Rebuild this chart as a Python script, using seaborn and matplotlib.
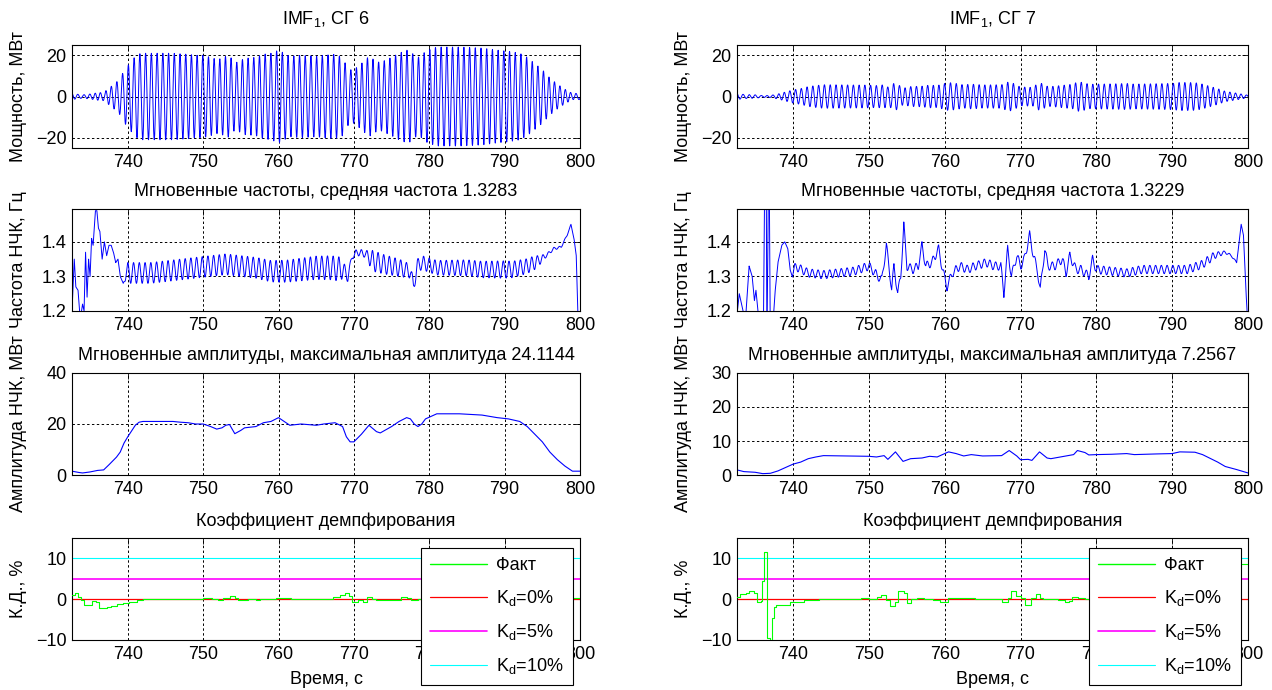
import numpy as np
import matplotlib
matplotlib.use("Agg")
import matplotlib.pyplot as plt
import seaborn as sns
from matplotlib.lines import Line2D

sns.set_style("white")
plt.rcParams["font.family"] = ["Liberation Sans", "DejaVu Sans"]
plt.rcParams["mathtext.fontset"] = "custom"
plt.rcParams["mathtext.rm"] = "Liberation Sans"
plt.rcParams["mathtext.it"] = "Liberation Sans:italic"
plt.rcParams["mathtext.bf"] = "Liberation Sans:bold"
plt.rcParams["text.color"] = "black"
plt.rcParams["axes.labelcolor"] = "black"
plt.rcParams["xtick.color"] = "black"
plt.rcParams["ytick.color"] = "black"

# ---------------- data ----------------
T_START, T_END = 732.6, 800.0
x_ticks = [740, 750, 760, 770, 780, 790, 800]
x_ticklabels = ["740", "750", "760", "770", "780", "790", "800"]
# bottom row: the 790 label sits fully under the legend in the reference
x_ticklabels_bottom = ["740", "750", "760", "770", "780", "", "800"]

# Instantaneous amplitude, SG 6
amp6_t = [732.6, 733.5, 734.0, 735.0, 736.0, 736.8, 737.5, 738.5, 739.0, 739.5, 740.0, 741.0, 741.5,
          742.0, 746.0, 747.0, 748.0, 749.0, 750.0, 751.0, 751.8, 752.5, 753.0, 753.5, 754.2, 755.0,
          755.5, 757.0, 758.0, 759.0, 760.0, 760.5, 761.5, 763.0, 765.0, 766.0, 767.5, 768.5, 769.0,
          769.5, 770.0, 771.0, 772.0, 773.0, 773.5, 775.0, 776.0, 777.0, 777.5, 778.0, 778.5, 779.0,
          779.5, 781.0, 784.0, 787.0, 789.0, 790.5, 792.0, 793.0, 794.0, 795.0, 796.0, 797.0, 798.0,
          799.0, 800.0]
amp6_v = [1.5, 1.0, 0.8, 1.2, 1.8, 2.0, 4.0, 7.0, 9.0, 12.5, 15.0, 19.5, 20.7,
          21.0, 21.0, 20.7, 20.5, 20.0, 20.0, 19.0, 18.0, 18.5, 19.5, 19.8, 16.2, 17.5,
          18.5, 19.0, 20.5, 21.0, 22.5, 21.5, 19.5, 20.0, 19.5, 20.0, 20.5, 19.0, 15.0,
          13.0, 13.0, 16.0, 19.5, 17.0, 16.5, 19.0, 21.0, 22.5, 22.0, 20.0, 19.0, 20.0,
          22.0, 24.0, 24.0, 23.5, 22.5, 22.0, 21.0, 19.0, 16.0, 13.0, 9.0, 6.0, 3.5,
          1.5, 1.5]

# Instantaneous amplitude, SG 7
amp7_t = [732.6, 733.5, 735.0, 736.0, 737.0, 738.0, 739.0, 740.0, 741.0, 742.0, 743.0, 744.0,
          750.0, 751.0, 752.0, 752.5, 753.5, 754.5, 755.5, 757.0, 758.0, 759.0, 760.5, 761.5,
          762.5, 763.5, 765.0, 767.5, 768.5, 769.5, 770.0, 771.0, 771.5, 772.5, 773.5, 774.0,
          776.0, 777.0, 777.5, 778.5, 779.0, 780.0, 782.0, 784.0, 785.0, 788.0, 790.0, 791.0,
          793.0, 794.0, 796.0, 797.0, 798.5, 800.0]
amp7_v = [1.5, 1.0, 0.8, 0.4, 0.5, 1.2, 2.2, 3.2, 3.8, 4.8, 5.3, 5.7,
          5.5, 5.3, 5.7, 4.6, 6.8, 4.0, 4.8, 5.0, 5.5, 5.3, 6.8, 6.3,
          5.6, 6.0, 5.6, 5.7, 7.2, 5.6, 4.5, 4.6, 4.3, 6.8, 5.0, 4.8,
          5.6, 6.0, 7.2, 6.6, 5.9, 6.0, 6.1, 6.3, 6.0, 6.2, 6.3, 6.8,
          6.7, 6.0, 3.8, 2.5, 1.6, 0.6]

# Instantaneous frequency (mean level), SG 6
freq6_t = [732.6, 732.9, 733.1, 733.4, 733.6, 733.8, 734.0, 734.2, 734.4, 734.6, 734.8, 735.0,
           735.2, 735.4, 735.7, 735.9, 736.1, 736.3, 736.6, 736.9, 737.2, 737.5, 737.8, 738.1,
           738.4, 738.7, 739.0, 739.4, 739.8, 741.0, 743.0, 745.0, 747.0, 749.0, 751.0, 753.0,
           755.0, 757.0, 759.0, 761.0, 763.0, 765.0, 767.0, 768.5, 769.2, 769.8, 770.5, 771.5,
           772.5, 774.0, 776.0, 777.5, 777.9, 778.4, 779.0, 781.0, 783.0, 785.0, 787.0, 789.0,
           791.0, 793.0, 794.5, 795.5, 796.5, 797.5, 798.3, 798.8, 799.2, 799.5, 799.7, 800.0]
freq6_v = [1.20, 1.35, 1.27, 1.26, 1.20, 1.19, 1.22, 1.20, 1.37, 1.24, 1.35, 1.30,
           1.41, 1.39, 1.49, 1.49, 1.44, 1.43, 1.35, 1.40, 1.36, 1.39, 1.39, 1.37,
           1.34, 1.35, 1.30, 1.28, 1.31, 1.31, 1.31, 1.315, 1.32, 1.325, 1.33, 1.335,
           1.33, 1.325, 1.315, 1.315, 1.32, 1.325, 1.325, 1.32, 1.30, 1.36, 1.37, 1.365,
           1.345, 1.335, 1.325, 1.315, 1.27, 1.33, 1.34, 1.325, 1.325, 1.325, 1.32, 1.32,
           1.32, 1.33, 1.345, 1.36, 1.38, 1.385, 1.42, 1.45, 1.41, 1.36, 1.20, 1.10]
# half peak-to-peak of the ripple on the frequency trace, SG 6
rip6_t = [732.6, 739.4, 740.0, 757.0, 768.0, 769.5, 771.5, 772.5, 776.0, 777.5, 778.5, 790.0, 794.0, 795.5, 800.0]
rip6_v = [0.0, 0.0, 0.03, 0.03, 0.035, 0.01, 0.01, 0.03, 0.025, 0.02, 0.02, 0.025, 0.02, 0.005, 0.0]

# Instantaneous frequency (mean level), SG 7
freq7_t = [732.6, 732.9, 733.2, 733.5, 733.8, 734.2, 734.6, 734.9, 735.1, 735.4, 736.1, 736.25,
           736.45, 736.55, 736.75, 736.85, 737.0, 737.3, 737.6, 738.0, 738.5, 738.9, 739.3, 739.6,
           739.9, 740.2, 742.0, 744.0, 746.0, 748.0, 750.0, 751.2, 751.7, 752.3, 752.8, 753.0,
           753.3, 753.8, 754.2, 754.6, 755.0, 755.8, 756.5, 757.0, 757.5, 758.3, 759.2, 759.7,
           760.3, 761.0, 762.0, 763.0, 764.0, 765.5, 766.5, 767.4, 767.8, 768.3, 768.8, 769.5,
           770.0, 770.5, 771.2, 771.7, 772.2, 772.6, 773.2, 773.6, 774.5, 775.5, 776.0, 776.5,
           777.3, 778.0, 779.0, 779.5, 780.0, 782.0, 784.0, 786.0, 788.0, 790.0, 792.0, 794.0,
           795.5, 797.0, 797.8, 798.5, 799.1, 799.4, 799.7, 800.0]
freq7_v = [1.19, 1.25, 1.22, 1.19, 1.20, 1.33, 1.30, 1.23, 1.26, 1.19, 1.19, 1.60,
           1.60, 1.10, 1.60, 1.60, 1.10, 1.15, 1.25, 1.34, 1.39, 1.40, 1.38, 1.32,
           1.30, 1.33, 1.31, 1.305, 1.31, 1.315, 1.33, 1.30, 1.29, 1.39, 1.30, 1.26,
           1.33, 1.25, 1.30, 1.45, 1.33, 1.32, 1.33, 1.39, 1.33, 1.34, 1.38, 1.32,
           1.27, 1.31, 1.33, 1.32, 1.33, 1.34, 1.33, 1.33, 1.25, 1.38, 1.30, 1.36,
           1.33, 1.35, 1.42, 1.36, 1.32, 1.26, 1.38, 1.33, 1.33, 1.35, 1.31, 1.36,
           1.32, 1.32, 1.30, 1.35, 1.32, 1.315, 1.31, 1.32, 1.32, 1.32, 1.32, 1.335,
           1.36, 1.37, 1.36, 1.34, 1.45, 1.42, 1.27, 1.15]
rip7_t = [732.6, 739.8, 740.5, 795.0, 797.0, 800.0]
rip7_v = [0.0, 0.0, 0.012, 0.012, 0.004, 0.0]

# Damping coefficient (step trace), %
kd6_t = [732.6, 733.0, 733.4, 733.8, 734.2, 735.0, 735.3, 735.8, 736.2, 737.2, 737.8, 738.6,
         739.4, 740.2, 741.2, 742.0, 750.0, 751.2, 752.0, 752.6, 753.6, 754.2, 754.6, 756.0,
         757.0, 757.6, 759.6, 761.6, 767.2, 768.2, 768.8, 769.4, 769.8, 770.6, 771.2, 771.8,
         772.4, 773.0, 775.6, 776.2, 777.0, 777.6, 778.5, 790.0, 797.0, 800.0]
kd6_v = [1.0, 1.5, 0.6, -0.3, -1.5, -1.5, -0.5, -0.6, -2.2, -2.0, -1.6, -1.2,
         -0.9, -0.6, -0.2, 0.0, 0.3, 0.0, -0.3, 0.2, 0.9, 0.3, -0.2, 0.0,
         -0.2, 0.0, 0.3, 0.0, 0.5, 1.0, 1.4, 0.8, -0.6, -0.3, -0.6, 0.5,
         0.1, -0.2, -0.1, 0.5, 0.2, -0.3, 0.0, 0.2, 0.3, 0.3]
kd7_t = [732.6, 733.0, 733.8, 734.2, 734.8, 735.2, 735.7, 735.9, 736.2, 736.6, 737.0, 737.2,
         737.5, 737.8, 738.6, 739.6, 740.4, 741.5, 743.4, 748.0, 749.0, 750.0, 751.0, 751.6,
         752.2, 752.8, 753.4, 753.8, 754.6, 755.0, 755.6, 756.4, 757.2, 758.4, 759.4, 760.0,
         760.4, 762.0, 764.0, 767.0, 767.6, 768.4, 768.8, 769.4, 770.0, 770.6, 771.4, 772.0,
         772.6, 773.0, 775.0, 775.8, 776.4, 776.8, 777.6, 778.5, 795.0, 798.5, 800.0]
kd7_v = [0.6, 1.2, 1.6, 1.9, 1.6, -0.6, -0.4, 4.5, 11.6, -9.5, -10.0, -4.5,
         -2.0, -1.4, -1.5, -0.8, -0.6, -0.3, 0.0, 0.1, 0.3, 0.0, 0.5, 1.0,
         -0.1, -1.6, -0.8, 2.0, 1.6, -1.0, 0.0, 0.3, 0.1, -0.2, -0.8, -0.6,
         0.3, 0.2, 0.0, 0.1, -0.6, 0.2, 1.9, 0.8, 0.4, -1.3, 0.3, 1.2,
         0.4, 0.0, -0.1, -0.8, -0.5, 0.6, 0.2, 0.0, 0.0, 8.6, 8.6]

kd_levels = [0, 5, 10]
kd_colors = ["#ff0000", "#ff00ff", "#00ffff"]
kd_widths = [0.9, 1.2, 0.8]
legend_labels = ["Факт", "K$_{\\mathrm{d}}$=0%", "K$_{\\mathrm{d}}$=5%", "K$_{\\mathrm{d}}$=10%"]

columns = [
    dict(name="IMF$_{\\mathrm{1}}$, СГ 6", amp_t=amp6_t, amp_v=amp6_v, fr_t=freq6_t, fr_v=freq6_v,
         rp_t=rip6_t, rp_v=rip6_v, kd_t=kd6_t, kd_v=kd6_v, mean_f="1.3283", max_a="24.1144",
         amp_ylim=(0, 40), amp_ticks=[0, 20, 40]),
    dict(name="IMF$_{\\mathrm{1}}$, СГ 7", amp_t=amp7_t, amp_v=amp7_v, fr_t=freq7_t, fr_v=freq7_v,
         rp_t=rip7_t, rp_v=rip7_v, kd_t=kd7_t, kd_v=kd7_v, mean_f="1.3229", max_a="7.2567",
         amp_ylim=(0, 30), amp_ticks=[0, 10, 20, 30]),
]

# ---------------- layout ----------------
W, H = 1272, 690
fig = plt.figure(figsize=(W / 100, H / 100), dpi=100)
col_x = [(72, 508), (737, 511)]
row_y = [(45, 148), (209, 311), (373, 475), (538, 640)]
FS = 13
BLUE = "#0000ff"


def make_ax(ci, ri):
    x0, w = col_x[ci]
    top, bot = row_y[ri]
    return fig.add_axes([x0 / W, 1 - bot / H, w / W, (bot - top) / H])


def style(ax, yticks, ylim, xlabels=x_ticklabels):
    ax.set_xlim(T_START, T_END)
    ax.set_ylim(*ylim)
    ax.set_xticks(x_ticks)
    ax.set_xticklabels(xlabels)
    ax.set_yticks(yticks)
    ax.tick_params(direction="in", top=True, right=True, length=4, width=0.6,
                   labelsize=FS, pad=4, colors="black")
    for s in ax.spines.values():
        s.set_visible(True)
        s.set_color("black")
        s.set_linewidth(0.8)
    for xv in x_ticks[:-1]:
        ax.axvline(xv, color="black", lw=0.7, ls=(0, (2.5, 2.5)), zorder=0.5)
    for yv in yticks:
        if ylim[0] < yv < ylim[1]:
            ax.axhline(yv, color="black", lw=0.7, ls=(0, (2.5, 2.5)), zorder=0.5)
    ax.set_xlabel("")
    ax.set_ylabel("")


dt = 0.01
t_fine = np.arange(T_START, T_END + dt / 2, dt)

for ci, c in enumerate(columns):
    amp_f = np.interp(t_fine, c["amp_t"], c["amp_v"])
    fr_mean = np.interp(t_fine, c["fr_t"], c["fr_v"])
    phase = 2 * np.pi * np.cumsum(np.clip(fr_mean, 1.2, 1.5)) * dt
    imf = amp_f * np.cos(phase)
    ripple = np.interp(t_fine, c["rp_t"], c["rp_v"])
    fr_line = fr_mean + ripple * np.cos(phase + 0.6)

    # Row 1: IMF
    ax = make_ax(ci, 0)
    sns.lineplot(x=t_fine, y=imf, ax=ax, color=BLUE, lw=0.7, estimator=None, sort=False)
    style(ax, [-20, 0, 20], (-25, 25))
    ax.set_title(c["name"], fontsize=FS, pad=15)
    ax.set_ylabel("Мощность, МВт", fontsize=FS)

    # Row 2: frequency
    ax = make_ax(ci, 1)
    sns.lineplot(x=t_fine, y=fr_line, ax=ax, color=BLUE, lw=0.7, estimator=None, sort=False)
    style(ax, [1.2, 1.3, 1.4], (1.2, 1.495))
    ax.set_title("Мгновенные частоты, средняя частота " + c["mean_f"], fontsize=FS, pad=9)
    ax.set_ylabel("Частота НЧК, Гц", fontsize=FS)

    # Row 3: amplitude
    ax = make_ax(ci, 2)
    sns.lineplot(x=c["amp_t"], y=c["amp_v"], ax=ax, color=BLUE, lw=0.8, estimator=None, sort=False)
    style(ax, c["amp_ticks"], c["amp_ylim"])
    ax.set_title("Мгновенные амплитуды, максимальная амплитуда " + c["max_a"], fontsize=FS, pad=9)
    ax.set_ylabel("Амплитуда НЧК, МВт", fontsize=FS)

    # Row 4: damping coefficient
    ax = make_ax(ci, 3)
    sns.lineplot(x=c["kd_t"], y=c["kd_v"], ax=ax, color="#00ff00", lw=0.8, estimator=None,
                 sort=False, drawstyle="steps-post", zorder=3)
    for lv, col, lw in zip(kd_levels, kd_colors, kd_widths):
        ax.axhline(lv, color=col, lw=lw, zorder=2)
    style(ax, [-10, 0, 10], (-10, 15), xlabels=x_ticklabels_bottom)
    ax.set_title("Коэффициент демпфирования", fontsize=FS, pad=9)
    ax.set_ylabel("К.Д., %", fontsize=FS)
    ax.set_xlabel("Время, с", fontsize=FS, labelpad=6)

    handles = [Line2D([], [], color="#00ff00", lw=1.0)] + \
              [Line2D([], [], color=col, lw=lw) for col, lw in zip(kd_colors, kd_widths)]
    x_right = (col_x[ci][0] + col_x[ci][1] - 7) / W
    leg = ax.legend(handles, legend_labels, loc="upper right",
                    bbox_to_anchor=(x_right, 1 - 548 / H), bbox_transform=fig.transFigure,
                    fontsize=FS, frameon=True, fancybox=False, framealpha=1,
                    edgecolor="black", handlelength=3.2, labelspacing=0.78,
                    borderpad=0.5, handletextpad=0.5, borderaxespad=0)
    leg.get_frame().set_linewidth(0.8)
    leg.set_zorder(10)

# y-label positions (same offset for all axes)
for ax in fig.axes:
    ax.yaxis.set_label_coords(-45 / 508, 0.5)

fig.savefig("out.png", dpi=100)
